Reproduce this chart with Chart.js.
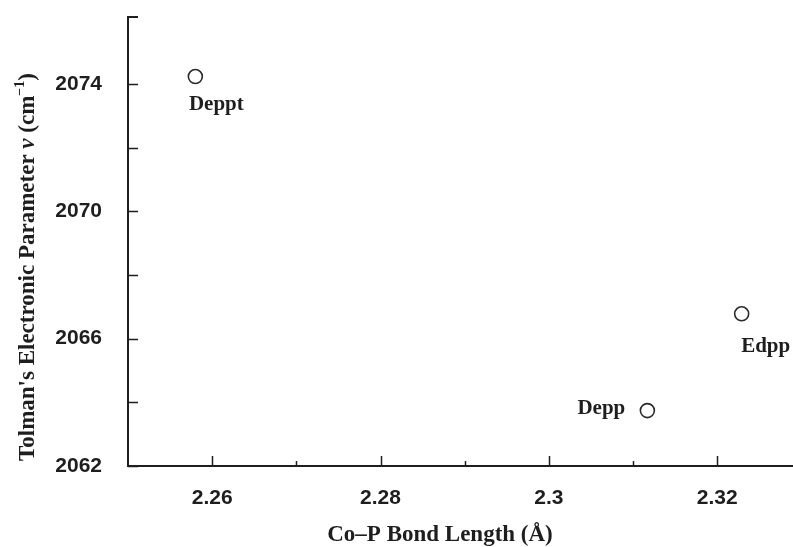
<!DOCTYPE html>
<html>
<head>
<meta charset="utf-8">
<title>Co-P bond length vs TEP</title>
<script src="https://cdn.jsdelivr.net/npm/chart.js@4/dist/chart.umd.min.js"></script>
<style>
  body { margin: 0; background: #fff; }
  canvas { display: block; }
</style>
</head>
<body>
<canvas id="tepChart" width="793" height="547"></canvas>
<script>
// Co-P bond length (Å) against Tolman's electronic parameter (cm-1)
const ligands = ['Deppt', 'Depp', 'Edpp'];
const bondLength = [2.258, 2.3117, 2.3229];
const tepValues = [2074.23, 2063.74, 2066.78];

const xTicks = [2.26, 2.28, 2.30, 2.32];
const xMinorTicks = [2.27, 2.29, 2.31];
const yTicks = [2062, 2066, 2070, 2074];
const yMinorTicks = [2064, 2068, 2072];

// where each ligand name sits relative to its marker
const labelOffsets = [[21, 28], [-46, -2], [24, 33]];

const INK = '#1e1e1e';
const SERIF = '"Liberation Serif", "Times New Roman", serif';
const SANS = '"Liberation Sans", Arial, sans-serif';

const whiteBg = {
    id: 'whiteBg',
    beforeDraw(chart) {
        const { ctx, width, height } = chart;
        ctx.save();
        ctx.fillStyle = '#fff';
        ctx.fillRect(0, 0, width, height);
        ctx.restore();
    }
};

// axis lines with ticks pointing into the plot
const innerAxes = {
    id: 'innerAxes',
    afterDraw(chart) {
        const { ctx, chartArea } = chart;
        const xs = chart.scales.x, ys = chart.scales.y;
        ctx.save();
        ctx.strokeStyle = INK;
        ctx.lineWidth = 2;
        ctx.beginPath();
        ctx.moveTo(chartArea.left + 10, chartArea.top);
        ctx.lineTo(chartArea.left, chartArea.top);
        ctx.lineTo(chartArea.left, chartArea.bottom);
        ctx.lineTo(chartArea.right, chartArea.bottom);
        ctx.stroke();

        ctx.lineWidth = 1.5;
        ctx.beginPath();
        yTicks.concat(yMinorTicks).forEach(v => {
            const y = Math.round(ys.getPixelForValue(v)) + 0.5;
            ctx.moveTo(chartArea.left, y);
            ctx.lineTo(chartArea.left + 10, y);
        });
        xTicks.forEach(v => {
            const x = Math.round(xs.getPixelForValue(v)) + 0.5;
            ctx.moveTo(x, chartArea.bottom);
            ctx.lineTo(x, chartArea.bottom - 10);
        });
        xMinorTicks.forEach(v => {
            const x = Math.round(xs.getPixelForValue(v)) + 0.5;
            ctx.moveTo(x, chartArea.bottom);
            ctx.lineTo(x, chartArea.bottom - 5);
        });
        ctx.stroke();
        ctx.restore();
    }
};

const pointNames = {
    id: 'pointNames',
    afterDatasetsDraw(chart) {
        const { ctx } = chart;
        const meta = chart.getDatasetMeta(0);
        ctx.save();
        ctx.fillStyle = INK;
        ctx.font = `bold 21px ${SERIF}`;
        ctx.textAlign = 'center';
        ctx.textBaseline = 'middle';
        meta.data.forEach((pt, i) => {
            const [dx, dy] = labelOffsets[i];
            ctx.fillText(ligands[i], pt.x + dx, pt.y + dy);
        });
        ctx.restore();
    }
};

// axis titles, drawn by hand so the y title can carry the italic nu and superscript
const axisTitles = {
    id: 'axisTitles',
    afterDraw(chart) {
        const { ctx } = chart;
        ctx.save();
        ctx.fillStyle = INK;
        ctx.textBaseline = 'alphabetic';

        ctx.font = `bold 23px ${SERIF}`;
        ctx.textAlign = 'center';
        ctx.fillText('Co\u2013P Bond Length (\u00C5)', 440, 541);

        const parts = [
            { t: "Tolman's Electronic Parameter ", f: `bold 23px ${SERIF}`, dy: 0 },
            { t: '\u03BD', f: `italic bold 23px ${SERIF}`, dy: 0 },
            { t: ' (cm', f: `bold 23px ${SERIF}`, dy: 0 },
            { t: '\u22121', f: `bold 14px ${SERIF}`, dy: -10 },
            { t: ')', f: `bold 23px ${SERIF}`, dy: 0 }
        ];
        let total = 0;
        parts.forEach(p => { ctx.font = p.f; p.w = ctx.measureText(p.t).width; total += p.w; });
        ctx.translate(34, 267);
        ctx.rotate(-Math.PI / 2);
        ctx.textAlign = 'left';
        let x = -total / 2;
        parts.forEach(p => {
            ctx.font = p.f;
            ctx.fillText(p.t, x, p.dy);
            x += p.w;
        });
        ctx.restore();
    }
};

function noEdgePadding(scale) {
    scale.paddingTop = 0;
    scale.paddingBottom = 0;
    scale.paddingLeft = 0;
    scale.paddingRight = 0;
}

new Chart(document.getElementById('tepChart'), {
    type: 'scatter',
    data: {
        datasets: [{
            data: bondLength.map((x, i) => ({ x, y: tepValues[i] })),
            pointRadius: 7,
            pointBorderWidth: 1.6,
            pointBorderColor: '#2a2a2a',
            pointBackgroundColor: '#fff'
        }]
    },
    options: {
        responsive: false,
        animation: false,
        events: [],
        layout: { autoPadding: false, padding: { top: 17, right: 0, left: 0, bottom: 0 } },
        plugins: {
            legend: { display: false },
            tooltip: { enabled: false }
        },
        scales: {
            x: {
                type: 'linear',
                min: 2.25,
                max: 2.329,
                afterBuildTicks: scale => { scale.ticks = xTicks.map(value => ({ value })); },
                afterFit: scale => { scale.height = 81; noEdgePadding(scale); },
                grid: { display: false, drawTicks: false },
                border: { display: false },
                ticks: {
                    padding: 20,
                    color: INK,
                    font: { family: SANS, size: 21, weight: 'bold' },
                    callback: v => String(+v.toFixed(2))
                }
            },
            y: {
                type: 'linear',
                min: 2062,
                max: 2076.1,
                afterBuildTicks: scale => { scale.ticks = yTicks.map(value => ({ value })); },
                afterFit: scale => { scale.width = 128; noEdgePadding(scale); },
                grid: { display: false, drawTicks: false },
                border: { display: false },
                ticks: {
                    padding: 26,
                    color: INK,
                    font: { family: SANS, size: 21, weight: 'bold' },
                    callback: v => String(v)
                }
            }
        }
    },
    plugins: [whiteBg, innerAxes, pointNames, axisTitles]
});
</script>
</body>
</html>
